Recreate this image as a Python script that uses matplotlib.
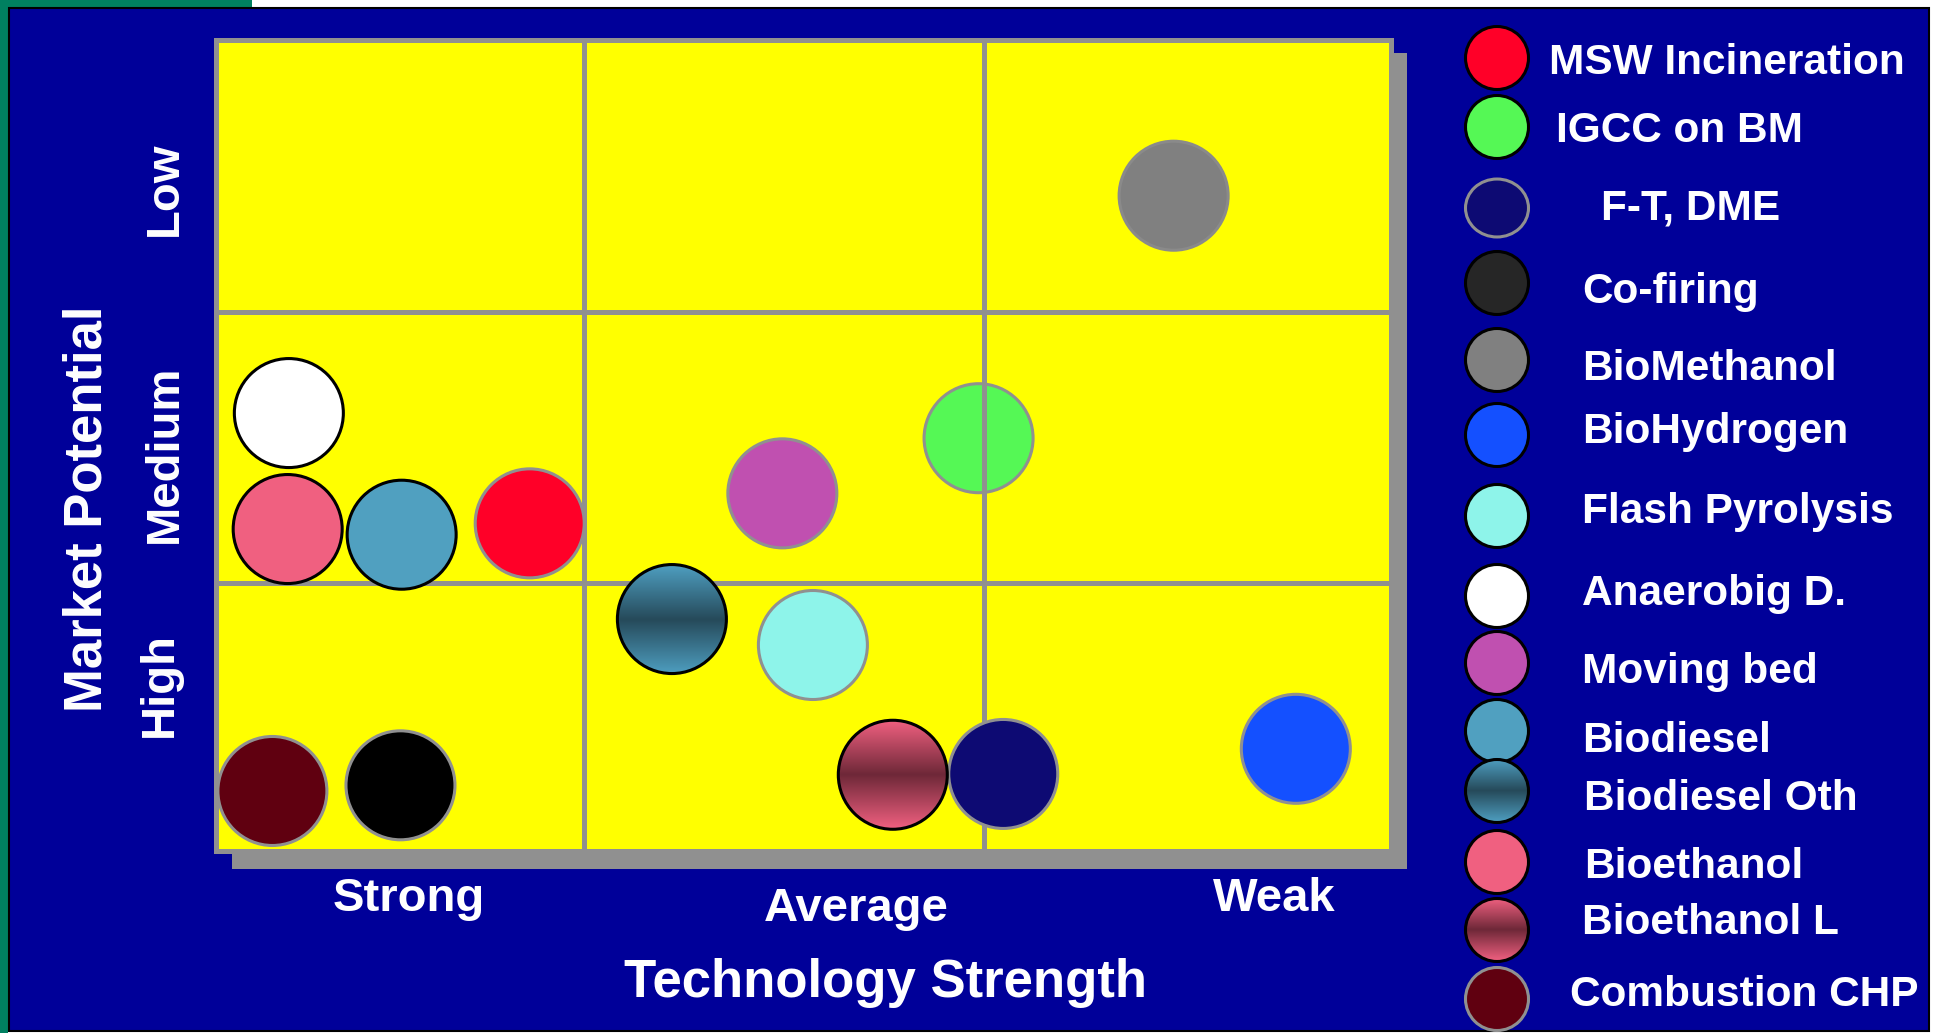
import numpy as np
import matplotlib
matplotlib.use("Agg")
import matplotlib.pyplot as plt
from matplotlib.patches import Ellipse, Rectangle
from matplotlib.colors import LinearSegmentedColormap
import matplotlib.transforms as mtransforms

# ---------------- data ----------------
technologies = ["MSW Incineration", "IGCC on BM", "F-T, DME", "Co-firing", "BioMethanol",
                "BioHydrogen", "Flash Pyrolysis", "Anaerobig D.", "Moving bed", "Biodiesel",
                "Biodiesel Oth", "Bioethanol", "Bioethanol L", "Combustion CHP"]
# technology strength score (0 = strongest .. 10 = weakest)
tech_strength = [2.67, 6.49, 6.70, 1.57, 8.15, 9.19, 5.08, 0.62, 4.82, 1.58, 3.88, 0.61, 5.76, 0.48]
# market potential score (0 = highest .. 10 = lowest)
market_potential = [4.04, 5.09, 0.95, 0.81, 8.08, 1.26, 2.54, 5.40, 4.41, 3.90, 2.86, 3.97, 0.94, 0.74]
fill_colors = ["#ff0028", "#55f855", "#0d0a73", "#000000", "#808080", "#1450ff", "#8ef4ea",
               "#ffffff", "#c050b0", "#50a0c0", "gradient_blue", "#f06080", "gradient_pink", "#600010"]
legend_fill = ["#ff0028", "#55f855", "#0d0a73", "#262626", "#808080", "#1450ff", "#8ef4ea",
               "#ffffff", "#c050b0", "#50a0c0", "gradient_blue", "#f06080", "gradient_pink", "#600010"]
plot_edges = ["#909090", "#909090", "#909090", "#909090", "#8a8a8a", "#909090", "#909090",
              "#000000", "#909090", "#000000", "#000000", "#000000", "#000000", "#909090"]
legend_edges = ["#000000", "#000000", "#909090", "#000000", "#000000", "#000000", "#000000",
                "#000000", "#000000", "#000000", "#000000", "#000000", "#000000", "#909090"]
behind_grid = ["IGCC on BM"]

x_categories = ["Strong", "Average", "Weak"]
x_cat_pos = [1.64, 5.45, 9.01]
y_categories = ["Low", "Medium", "High"]
y_cat_pos = [8.16, 4.90, 2.05]
x_boundaries = [3.13, 6.54]
y_boundaries = [3.30, 6.65]
x_title = "Technology Strength"
y_title = "Market Potential"

gradients = {
    "gradient_blue": ["#264a5a", "#4e9ec0"],
    "gradient_pink": ["#6e2838", "#f06080"],
}

# ---------------- layout ----------------
W, H = 1939, 1033
fig = plt.figure(figsize=(W / 100, H / 100), dpi=100)
fig.patch.set_facecolor("white")
FONT = "Liberation Sans"

bg = fig.add_axes([0, 0, 1, 1], zorder=0)
bg.set_xlim(0, W)
bg.set_ylim(H, 0)
bg.axis("off")

bg.add_patch(Rectangle((0, 0), 8, H, fc="#008060", ec="none"))
bg.add_patch(Rectangle((0, 0), 252, 8, fc="#008060", ec="none"))
bg.add_patch(Rectangle((8.5, 7.5), 1920, 1023, fc="#000099", ec="black", lw=1.5))
# plot shadow
bg.add_patch(Rectangle((232, 53), 1175, 816, fc="#909090", ec="none"))

# ---------------- main plot ----------------
L, R, T, B = 216, 1391, 40, 851
ax = fig.add_axes([L / W, 1 - B / H, (R - L) / W, (B - T) / H], zorder=1)
ax.set_facecolor("#ffff00")
ax.set_xlim(0, 10)
ax.set_ylim(0, 10)
ax.set_xticks([])
ax.set_yticks([])
for s in ax.spines.values():
    s.set_color("#909090")
    s.set_linewidth(3.6)

for xb in x_boundaries:
    ax.axvline(xb, color="#909090", lw=3.6, zorder=2)
for yb in y_boundaries:
    ax.axhline(yb, color="#909090", lw=3.6, zorder=2)

R_PX = 54.5
bw = 2 * R_PX / (R - L) * 10
bh = 2 * R_PX / (B - T) * 10


def grad_image(axis, cx, cy, w, h, key, clip, z):
    cmap = LinearSegmentedColormap.from_list(key, gradients[key])
    v = np.abs(np.linspace(-1, 1, 200))[:, None] * np.ones((1, 10))
    im = axis.imshow(v, cmap=cmap, vmin=0, vmax=1, aspect="auto", interpolation="bilinear",
                     extent=[cx - w / 2, cx + w / 2, cy - h / 2, cy + h / 2], zorder=z)
    im.set_clip_path(clip)


for name, xv, yv, fc, ec in zip(technologies, tech_strength, market_potential, fill_colors, plot_edges):
    z = 1.5 if name in behind_grid else 3
    if fc in gradients:
        e = Ellipse((xv, yv), bw, bh, fc="none", ec=ec, lw=2.2, zorder=z + 0.1)
        ax.add_patch(e)
        grad_image(ax, xv, yv, bw, bh, fc, e, z)
    else:
        ax.add_patch(Ellipse((xv, yv), bw, bh, fc=fc, ec=ec, lw=2.2, zorder=z))
ax.set_xlim(0, 10)
ax.set_ylim(0, 10)

tfont = dict(family=FONT, weight="bold", color="white")
xbase = [-0.074, -0.086, -0.074]
for lab, xp, yb in zip(x_categories, x_cat_pos, xbase):
    ax.text(xp, yb, lab, transform=mtransforms.blended_transform_factory(ax.transData, ax.transAxes),
            ha="center", va="baseline", fontsize=34, clip_on=False, **tfont)
ybase = [-0.0332, -0.0332, -0.0374]
for lab, yp, xb in zip(y_categories, y_cat_pos, ybase):
    ax.text(xb, yp, lab, transform=mtransforms.blended_transform_factory(ax.transAxes, ax.transData),
            ha="center", va="baseline", rotation=90, rotation_mode="anchor",
            fontsize=34, clip_on=False, **tfont)

bg.text(886, 997, x_title, ha="center", va="baseline", fontsize=38, **tfont)
bg.text(102, 509, y_title, ha="center", va="baseline", rotation=90, rotation_mode="anchor",
        fontsize=38, **tfont)

# ---------------- legend ----------------
leg_cx = 1497
leg_cy = [58, 127, 208, 283, 360, 435, 516, 596, 663, 731, 791, 862, 930, 999]
leg_tx = [1549, 1556, 1601, 1582, 1582, 1582, 1582, 1582, 1582, 1582, 1584, 1584, 1582, 1570]
leg_ty = [59, 127, 204, 287, 364, 428, 507, 589, 668, 736, 795, 863, 919, 991]
LR = 31.5
for name, fc, ec, cy, tx, ty in zip(technologies, legend_fill, legend_edges, leg_cy, leg_tx, leg_ty):
    hh = 2 * LR * (0.92 if name == "F-T, DME" else 1.0)
    if fc in gradients:
        e = Ellipse((leg_cx, cy), 2 * LR, hh, fc="none", ec=ec, lw=2.2, zorder=4)
        bg.add_patch(e)
        cmap = LinearSegmentedColormap.from_list(fc, gradients[fc])
        v = np.abs(np.linspace(-1, 1, 200))[:, None] * np.ones((1, 10))
        im = bg.imshow(v, cmap=cmap, vmin=0, vmax=1, aspect="auto", interpolation="bilinear",
                       extent=[leg_cx - LR, leg_cx + LR, cy + hh / 2, cy - hh / 2], zorder=3)
        im.set_clip_path(e)
    else:
        bg.add_patch(Ellipse((leg_cx, cy), 2 * LR, hh, fc=fc, ec=ec, lw=2.2, zorder=3))
    bg.text(tx, ty, name, ha="left", va="center_baseline", fontsize=30.5, zorder=5, **tfont)
bg.set_xlim(0, W)
bg.set_ylim(H, 0)

fig.savefig("out.png", dpi=100, facecolor=fig.get_facecolor())
